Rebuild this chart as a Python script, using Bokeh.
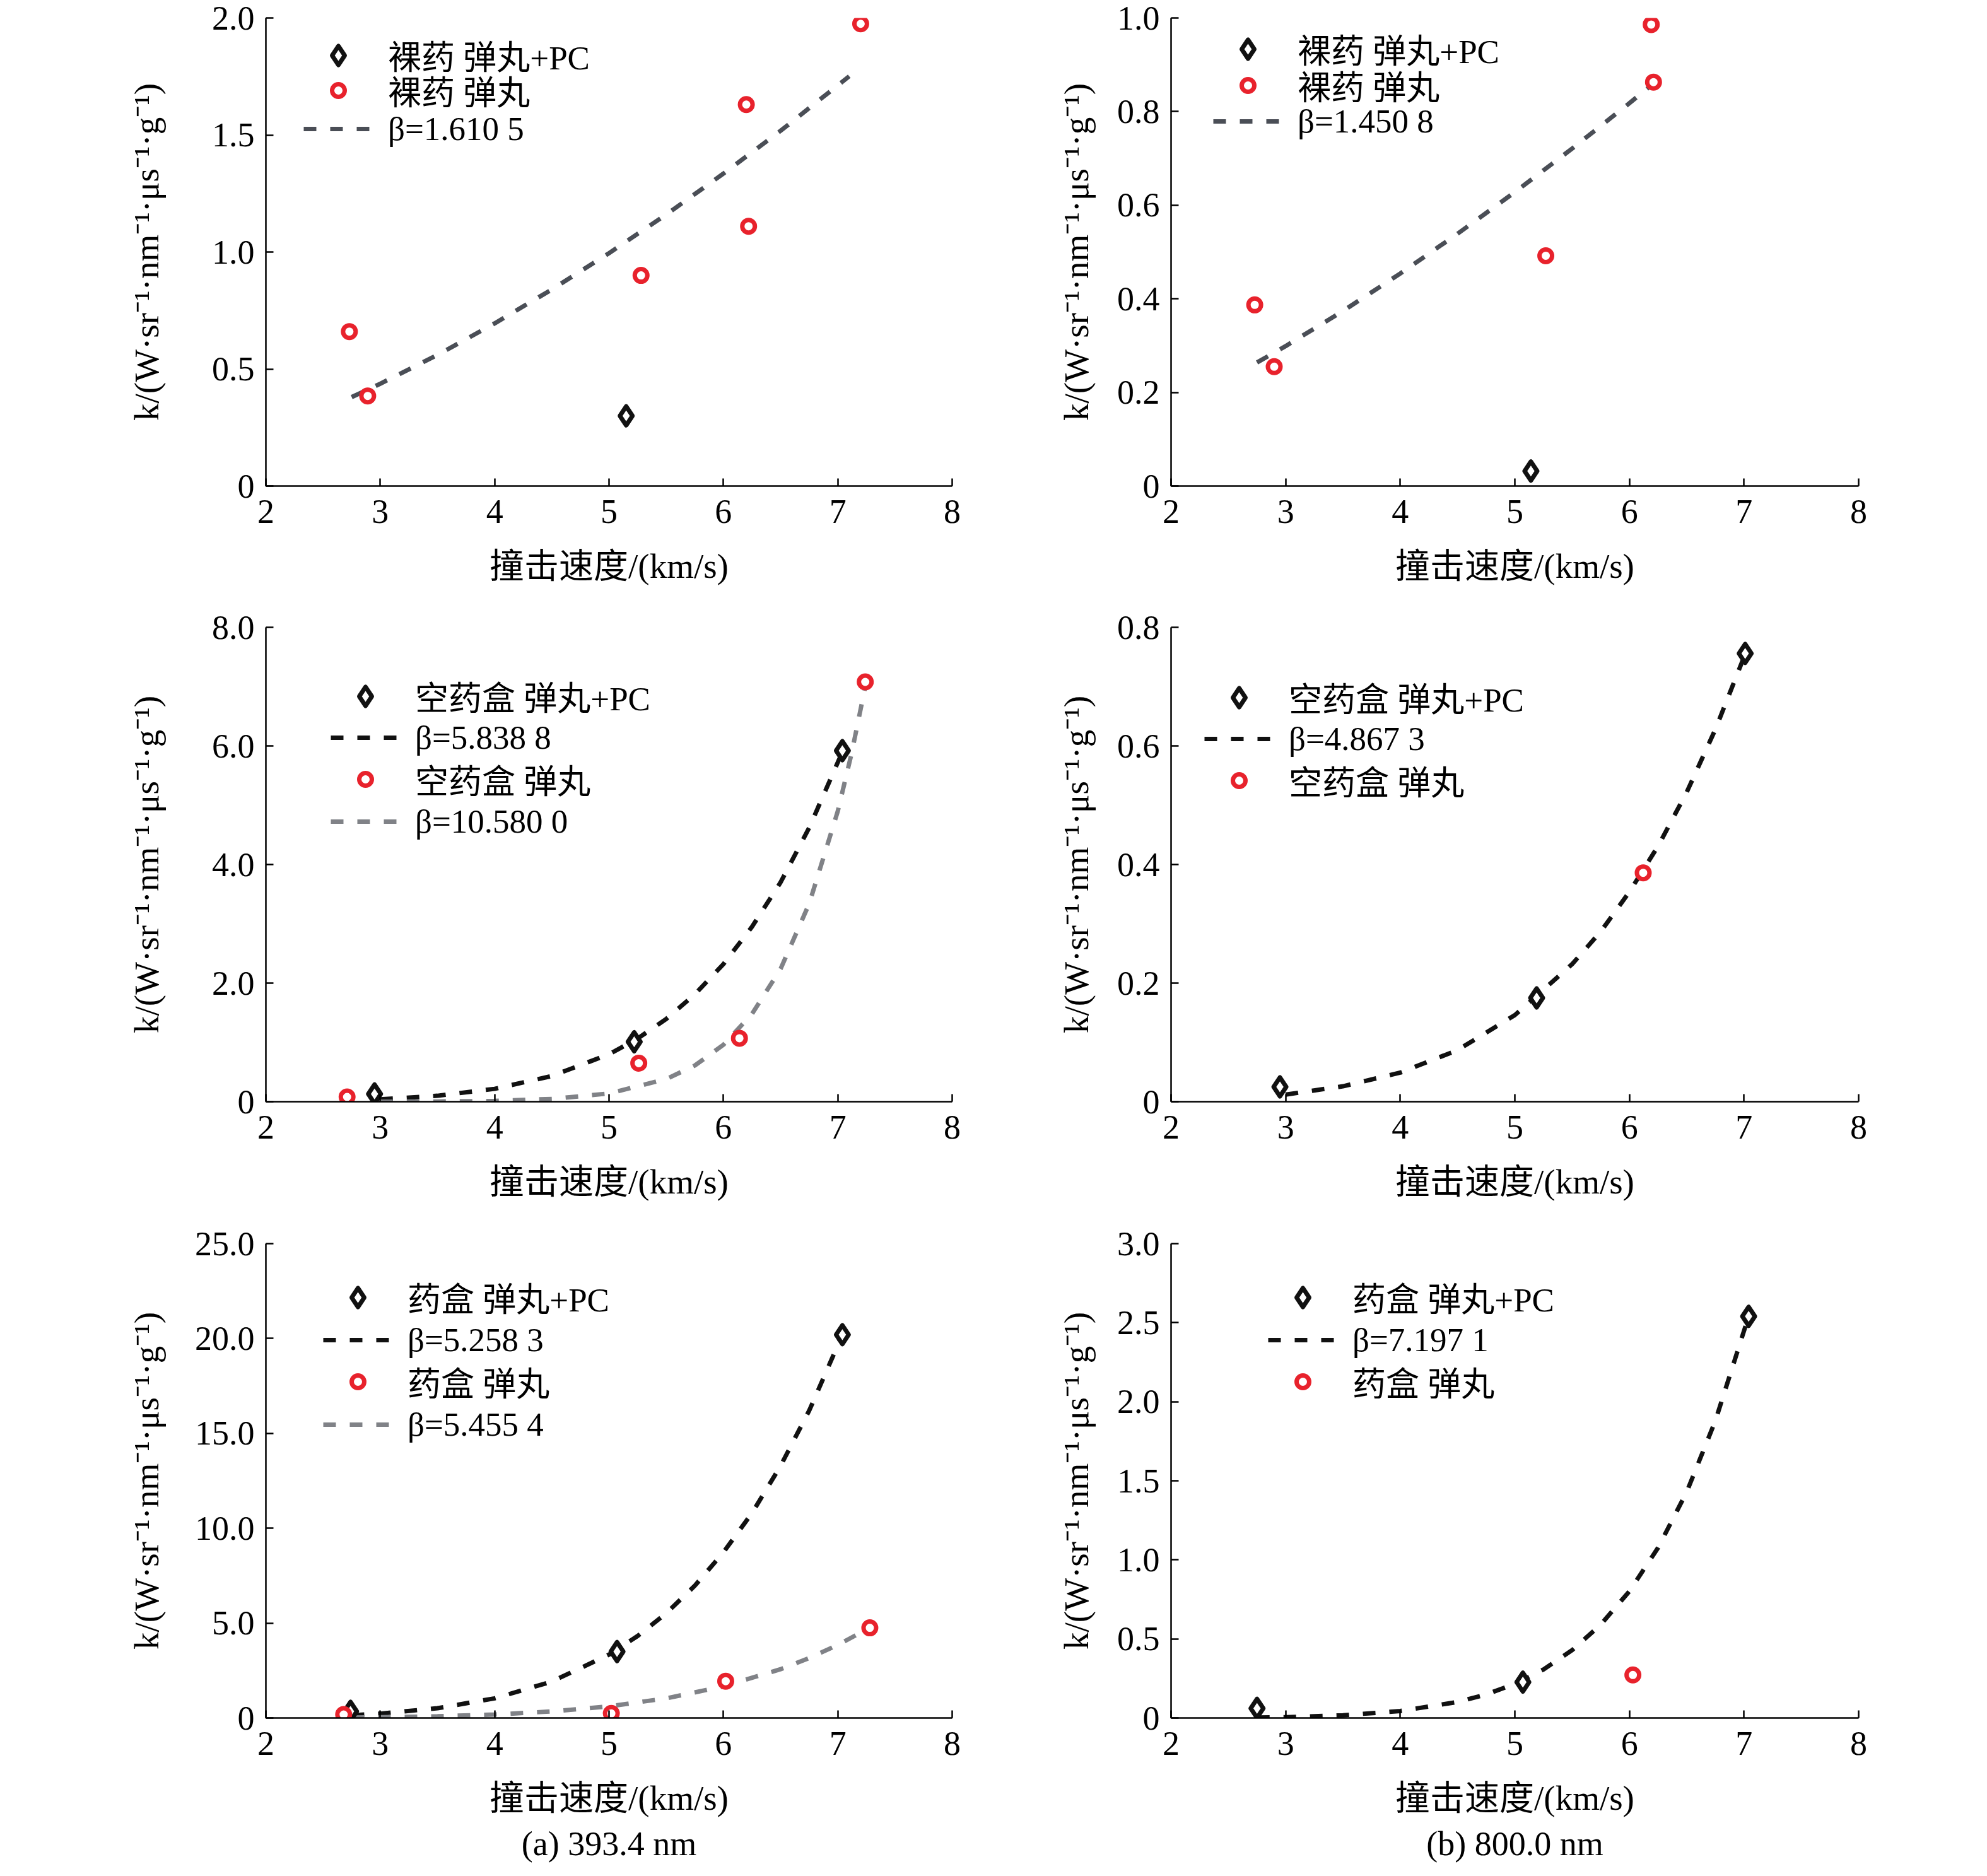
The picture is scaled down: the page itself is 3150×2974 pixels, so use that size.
from bokeh.plotting import figure
from bokeh.models import Range1d, FixedTicker, Legend, LegendItem, Title
from bokeh.layouts import column, row
from bokeh.embed import file_html
from bokeh.resources import INLINE

FONT = "Liberation Serif, Noto Sans CJK SC"
X_TICKS = [2, 3, 4, 5, 6, 7, 8]
X_LABEL = "撞击速度/(km/s)"
Y_LABEL = "k/(W·sr⁻¹·nm⁻¹·μs⁻¹·g⁻¹)"

RED = "#e8222c"
BLACK = "#111111"
DARKGRAY = "#4a4e56"
GRAY = "#808287"

# ---- (a) 393.4 nm, 裸药 ----
a1_pc_v = [5.15]
a1_pc_k = [0.30]
a1_v = [2.73, 2.89, 5.28, 6.20, 6.22, 7.20]
a1_k = [0.66, 0.385, 0.90, 1.63, 1.11, 1.975]
a1_fit_v = [2.75, 3.0, 3.5, 4.0, 4.5, 5.0, 5.5, 6.0, 6.5, 7.1]
a1_fit_k = [0.380, 0.437, 0.560, 0.695, 0.840, 0.995, 1.160, 1.335, 1.518, 1.751]
a1_yticks = [0, 0.5, 1.0, 1.5, 2.0]
a1_ylabels = ["0", "0.5", "1.0", "1.5", "2.0"]

# ---- (b) 800.0 nm, 裸药 ----
b1_pc_v = [5.14]
b1_pc_k = [0.032]
b1_v = [2.73, 2.90, 5.27, 6.19, 6.21]
b1_k = [0.387, 0.255, 0.492, 0.986, 0.863]
b1_fit_v = [2.75, 3.0, 3.5, 4.0, 4.5, 5.0, 5.5, 6.0, 6.2]
b1_fit_k = [0.264, 0.299, 0.374, 0.454, 0.539, 0.628, 0.721, 0.818, 0.858]
b1_yticks = [0, 0.2, 0.4, 0.6, 0.8, 1.0]
b1_ylabels = ["0", "0.2", "0.4", "0.6", "0.8", "1.0"]

# ---- (a) 空药盒 ----
a2_pc_v = [2.95, 5.22, 7.04]
a2_pc_k = [0.13, 1.01, 5.92]
a2_pc_fit_v = [3.0, 3.5, 4.0, 4.5, 5.0, 5.25, 5.5, 5.75, 6.0, 6.25, 6.5, 6.75, 7.04]
a2_pc_fit_k = [0.040, 0.100, 0.217, 0.433, 0.800, 1.065, 1.395, 1.81, 2.32, 2.95, 3.70, 4.62, 5.90]
a2_v = [2.71, 5.26, 6.14, 7.24]
a2_k = [0.08, 0.65, 1.07, 7.08]
a2_fit_v = [3.0, 3.5, 4.0, 4.5, 5.0, 5.5, 5.75, 6.0, 6.25, 6.5, 6.75, 7.0, 7.12, 7.24]
a2_fit_k = [0.0006, 0.0032, 0.013, 0.046, 0.139, 0.382, 0.61, 0.960, 1.48, 2.24, 3.34, 4.90, 5.87, 7.0]
a2_yticks = [0, 2, 4, 6, 8]
a2_ylabels = ["0", "2.0", "4.0", "6.0", "8.0"]

# ---- (b) 空药盒 ----
b2_pc_v = [2.95, 5.19, 7.01]
b2_pc_k = [0.025, 0.175, 0.756]
b2_pc_fit_v = [3.0, 3.5, 4.0, 4.5, 5.0, 5.5, 5.75, 6.0, 6.25, 6.5, 6.75, 7.0]
b2_pc_fit_k = [0.012, 0.026, 0.049, 0.087, 0.146, 0.232, 0.287, 0.354, 0.431, 0.522, 0.628, 0.750]
b2_v = [6.12]
b2_k = [0.386]
b2_yticks = [0, 0.2, 0.4, 0.6, 0.8]
b2_ylabels = ["0", "0.2", "0.4", "0.6", "0.8"]

# ---- (a) 药盒 ----
a3_pc_v = [2.74, 5.07, 7.04]
a3_pc_k = [0.35, 3.50, 20.2]
a3_pc_fit_v = [2.75, 3.0, 3.5, 4.0, 4.5, 5.0, 5.25, 5.5, 5.75, 6.0, 6.25, 6.5, 6.75, 7.04]
a3_pc_fit_k = [0.144, 0.228, 0.513, 1.035, 1.92, 3.34, 4.32, 5.52, 6.97, 8.73, 10.80, 13.29, 16.2, 20.2]
a3_v = [2.68, 5.02, 6.02, 7.28]
a3_k = [0.18, 0.24, 1.94, 4.75]
a3_fit_v = [2.75, 3.0, 3.5, 4.0, 4.5, 5.0, 5.5, 6.0, 6.5, 6.75, 7.0, 7.2]
a3_fit_k = [0.024, 0.038, 0.088, 0.182, 0.346, 0.615, 1.035, 1.665, 2.57, 3.16, 3.85, 4.50]
a3_yticks = [0, 5, 10, 15, 20, 25]
a3_ylabels = ["0", "5.0", "10.0", "15.0", "20.0", "25.0"]

# ---- (b) 药盒 ----
b3_pc_v = [2.75, 5.07, 7.04]
b3_pc_k = [0.061, 0.227, 2.54]
b3_pc_fit_v = [2.75, 3.0, 3.5, 4.0, 4.5, 4.75, 5.0, 5.25, 5.5, 5.75, 6.0, 6.25, 6.5, 6.75, 7.04]
b3_pc_fit_k = [0.003, 0.005, 0.017, 0.044, 0.101, 0.149, 0.216, 0.307, 0.429, 0.591, 0.802, 1.077, 1.43, 1.88, 2.54]
b3_v = [6.03]
b3_k = [0.272]
b3_yticks = [0, 0.5, 1.0, 1.5, 2.0, 2.5, 3.0]
b3_ylabels = ["0", "0.5", "1.0", "1.5", "2.0", "2.5", "3.0"]

LABEL_H = 96


def make_panel(ymax, yticks, ylabels, series, legend_vx, legend_vys,
               frame_w, frame_h, borders, ylab_standoff, caption=None):
    bl, br, bt, bb = borders
    p = figure(frame_width=frame_w, frame_height=frame_h,
               x_range=Range1d(2, 8), y_range=Range1d(0, ymax),
               output_backend="svg", toolbar_location=None,
               min_border_left=bl, min_border_right=br,
               min_border_top=bt, min_border_bottom=bb,
               background_fill_color="white", border_fill_color="white")
    p.outline_line_color = None
    p.xgrid.visible = False
    p.ygrid.visible = False
    p.xaxis.ticker = FixedTicker(ticks=X_TICKS)
    p.yaxis.ticker = FixedTicker(ticks=yticks)
    p.yaxis.major_label_overrides = {t: s for t, s in zip(yticks, ylabels)}
    for ax in (p.xaxis[0], p.yaxis[0]):
        ax.major_tick_in = 12
        ax.major_tick_out = 0
        ax.minor_tick_in = 0
        ax.minor_tick_out = 0
        ax.axis_line_width = 2.5
        ax.axis_line_color = "black"
        ax.major_tick_line_width = 2.5
        ax.major_tick_line_color = "black"
        ax.major_label_text_font = FONT
        ax.major_label_text_font_size = "54px"
        ax.major_label_text_color = "black"
        ax.axis_label_text_font = FONT
        ax.axis_label_text_font_size = "55px"
        ax.axis_label_text_font_style = "normal"
        ax.axis_label_text_color = "black"
    p.xaxis.axis_label = X_LABEL
    p.yaxis.axis_label = Y_LABEL
    p.xaxis.major_label_standoff = 22
    p.yaxis.major_label_standoff = 18
    p.xaxis.axis_label_standoff = 35
    p.yaxis.axis_label_standoff = ylab_standoff

    rmap = {}
    for s in series:
        if s[0] == "line":
            kind, xs, ys, label, color = s
            rmap[label] = p.line(xs, ys, line_color=color, line_width=7,
                                 line_dash="20 22")
    for s in series:
        kind, xs, ys, label, color = s
        if kind == "diamond":
            rmap[label] = p.scatter(xs, ys, marker="diamond", size=30,
                                    line_color=color, line_width=7,
                                    line_join="round", fill_color="white")
        elif kind == "circle":
            rmap[label] = p.scatter(xs, ys, marker="circle", size=20,
                                    line_color=color, line_width=7,
                                    fill_color="white")
    for s, vy in zip(series, legend_vys):
        kind, label = s[0], s[3]
        gh = 75 if kind == "diamond" else (50 if kind == "circle" else 60)
        leg = Legend(items=[LegendItem(label=label, renderers=[rmap[label]])],
                     location=(legend_vx, vy), glyph_width=110,
                     glyph_height=gh, label_height=LABEL_H, spacing=0,
                     padding=0, margin=0, label_standoff=24,
                     border_line_color=None, background_fill_alpha=0,
                     label_text_font=FONT, label_text_font_size="53px",
                     label_text_baseline="middle", label_text_color="black")
        p.add_layout(leg)
    if caption:
        t = Title(text=caption, align="center", text_font=FONT,
                  text_font_size="54px", text_font_style="normal",
                  text_color="black", standoff=14)
        p.add_layout(t, "below")
    return p


LEFT = (421, 60)
RIGHT = (287, 188)

p1 = make_panel(2.0, a1_yticks, a1_ylabels, [
    ("diamond", a1_pc_v, a1_pc_k, "裸药 弹丸+PC", BLACK),
    ("circle", a1_v, a1_k, "裸药 弹丸", RED),
    ("line", a1_fit_v, a1_fit_k, "β=1.610 5", DARKGRAY),
], 60, [635, 579, 518], 1088, 742, LEFT + (28, 190), 70)

p2 = make_panel(1.0, b1_yticks, b1_ylabels, [
    ("diamond", b1_pc_v, b1_pc_k, "裸药 弹丸+PC", BLACK),
    ("circle", b1_v, b1_k, "裸药 弹丸", RED),
    ("line", b1_fit_v, b1_fit_k, "β=1.450 8", DARKGRAY),
], 67, [645, 587, 530], 1090, 742, RIGHT + (28, 190), 31)

p3 = make_panel(8.0, a2_yticks, a2_ylabels, [
    ("diamond", a2_pc_v, a2_pc_k, "空药盒 弹丸+PC", BLACK),
    ("line", a2_pc_fit_v, a2_pc_fit_k, "β=5.838 8", BLACK),
    ("circle", a2_v, a2_k, "空药盒 弹丸", RED),
    ("line", a2_fit_v, a2_fit_k, "β=10.580 0", GRAY),
], 103, [595, 529, 463, 396], 1088, 752, LEFT + (34, 189), 70)

p4 = make_panel(0.8, b2_yticks, b2_ylabels, [
    ("diamond", b2_pc_v, b2_pc_k, "空药盒 弹丸+PC", BLACK),
    ("line", b2_pc_fit_v, b2_pc_fit_k, "β=4.867 3", BLACK),
    ("circle", b2_v, b2_k, "空药盒 弹丸", RED),
], 53, [593, 527, 461], 1090, 752, RIGHT + (34, 189), 31)

p5 = make_panel(25.0, a3_yticks, a3_ylabels, [
    ("diamond", a3_pc_v, a3_pc_k, "药盒 弹丸+PC", BLACK),
    ("line", a3_pc_fit_v, a3_pc_fit_k, "β=5.258 3", BLACK),
    ("circle", a3_v, a3_k, "药盒 弹丸", RED),
    ("line", a3_fit_v, a3_fit_k, "β=5.455 4", GRAY),
], 91, [619, 551, 485, 417], 1088, 752, LEFT + (36, 200), 43,
    caption="(a) 393.4 nm")

p6 = make_panel(3.0, b3_yticks, b3_ylabels, [
    ("diamond", b3_pc_v, b3_pc_k, "药盒 弹丸+PC", BLACK),
    ("line", b3_pc_fit_v, b3_pc_fit_k, "β=7.197 1", BLACK),
    ("circle", b3_v, b3_k, "药盒 弹丸", RED),
], 154, [619, 551, 485], 1090, 752, RIGHT + (36, 200), 31,
    caption="(b) 800.0 nm")

layout = column(row(p1, p2), row(p3, p4), row(p5, p6))
open("out.html", "w").write(file_html(layout, INLINE))
